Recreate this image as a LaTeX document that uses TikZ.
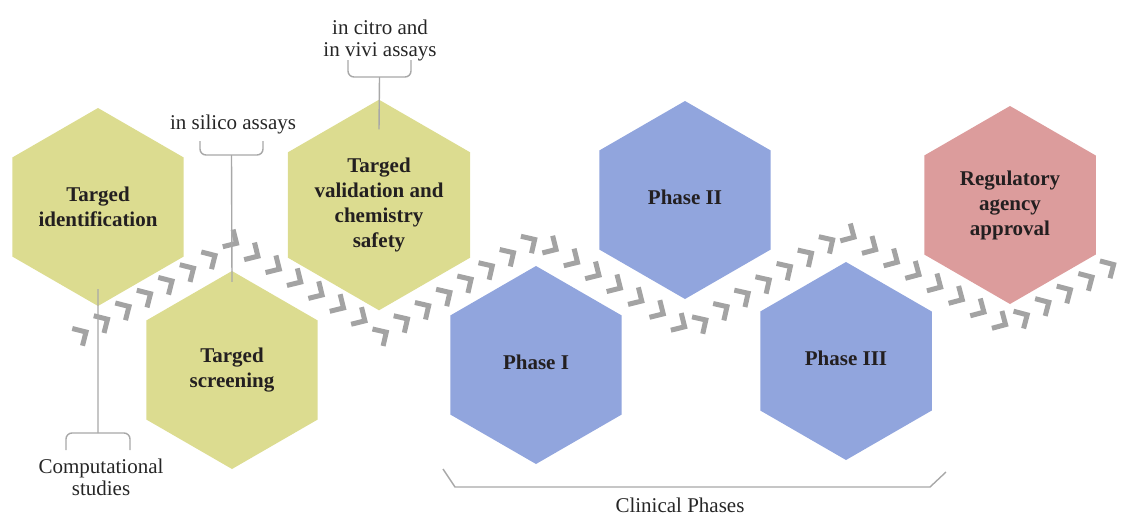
\documentclass[tikz,border=0pt]{standalone}
\usepackage{fontspec}
\setmainfont{Liberation Serif}
\usetikzlibrary{shapes.geometric,decorations.markings,calc}
\definecolor{hxolive}{HTML}{DCDC90}
\definecolor{hxblue}{HTML}{91A5DD}
\definecolor{hxrose}{HTML}{DC9C9C}
\definecolor{hxchev}{HTML}{A3A3A3}
\definecolor{hxrule}{HTML}{A8A8A8}
\definecolor{hxink}{HTML}{231F20}

\begin{document}
\begin{tikzpicture}[x=1pt, y=-1pt,
  hexa/.style={regular polygon, regular polygon sides=6, shape border rotate=30,
               minimum size=198pt, inner sep=0pt, align=center, text=hxink,
               font=\fontsize{21}{25}\selectfont\bfseries},
  note/.style={align=center, text=black!85, font=\fontsize{21}{22}\selectfont},
  brace/.style={hxrule, line width=1.4pt, rounded corners=6pt},
  stem/.style={hxrule, line width=1.4pt},
  chevron/.style={hxchev, line width=5pt, line join=miter},
  flow/.style={decorate, decoration={markings,
      mark=between positions 0 and 1 step 25pt with
      {\draw[chevron] (-10,-10) -- (0,0) -- (-10,10);}}},
]
\useasboundingbox (0,0) rectangle (1121,517);

% chevron band winding between the two rows
\path[flow] (86,332) -- (236,243) -- (385,333) -- (537,238) -- (690,330)
  -- (845,232) -- (1008,326) -- (1118,262);

% discovery steps
\node[hexa, fill=hxolive] (ident) at (98,207) {Targed\\identification};
\node[hexa, fill=hxolive] (screen) at (232,370) {Targed\\screening};
\node[hexa, fill=hxolive] (valid) at (379,205)
  {Targed\\validation and\\chemistry\\safety};

% clinical steps
\node[hexa, fill=hxblue] (phase1) at (536,365) {\raisebox{6pt}{Phase I}};
\node[hexa, fill=hxblue] (phase2) at (685,200) {\raisebox{6pt}{Phase II}};
\node[hexa, fill=hxblue] (phase3) at (846,361) {\raisebox{6pt}{Phase III}};
\node[hexa, fill=hxrose] (approval) at (1010,205) {Regulatory\\agency\\approval};

% notes with their brackets
\node[note] (silico) at (233,124) {in silico assays};
\draw[brace] (200,141) |- (263,155) -- (263,141);
\coordinate (silicotip) at (231.5,155);
\draw[stem] (silicotip) -- ($(screen.north)+(0,11)$);

\node[note] (vivo) at (380,40) {in citro and\\in vivi assays};
\draw[brace] (348,60) |- (411,77) -- (411,60);
\coordinate (vivotip) at (379.5,77);
\draw[stem] (vivotip) -- ($(valid.north)+(0,30)$);

\node[note] (comput) at (101,477) {Computational\\studies};
\draw[brace] (66,450) |- (130,433) -- (130,450);
\coordinate (computtip) at (98,433);
\draw[stem] ($(ident.south)+(0,-17)$) -- (computtip);

\node[note] (clinic) at (680,505) {Clinical Phases};
\draw[stem] (443,469) -- (455,487) -- (930,487) -- (946,472);
\end{tikzpicture}
\end{document}
